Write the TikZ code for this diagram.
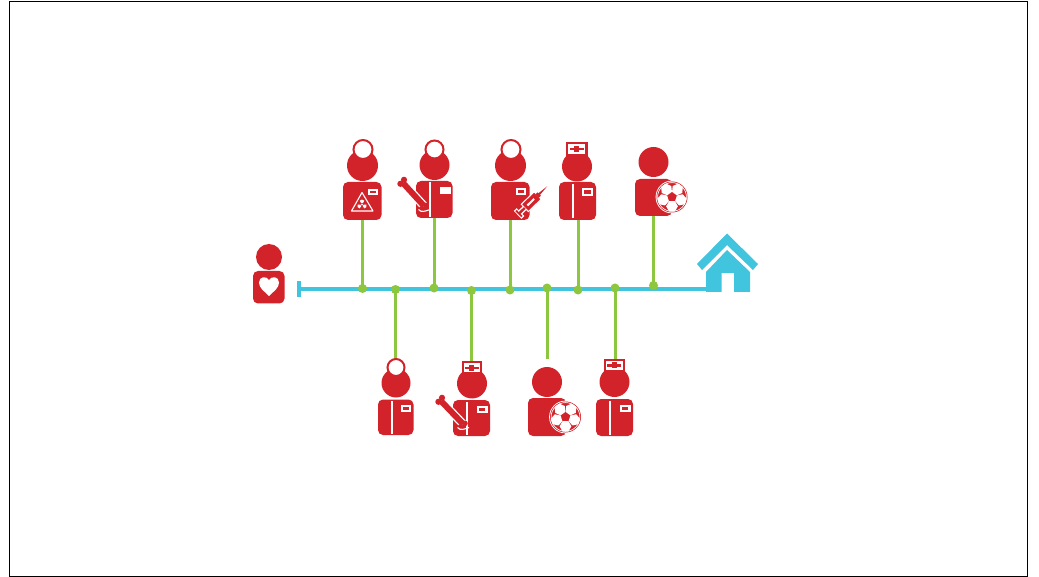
\documentclass[tikz,border=0pt]{standalone}
\definecolor{rd}{HTML}{D2232A}
\definecolor{bl}{HTML}{41C4DD}
\definecolor{gn}{HTML}{8DC63F}
\tikzset{
 x=1pt,y=-1pt,
 frame/.style={draw=black,line width=0.7pt,fill=white},
 rfill/.style={fill=rd,draw=none},
 wfill/.style={fill=white,draw=none},
 dotn/.style={circle,fill=gn,draw=none,inner sep=0pt,minimum size=#1},
 dotn/.default=9pt,
 conn/.style={draw=gn,line width=3pt},
 axis/.style={draw=bl,line width=4pt},
}
\newcommand{\Head}[3]{\fill[rfill] (#1,#2) circle (#3);}
\newcommand{\Body}[4]{\fill[rfill,rounded corners=5pt] (#1,#2) rectangle (#3,#4);}
\newcommand{\RCap}[3]{\draw[rd,fill=white,line width=2pt] (#1,#2) circle (#3);}
\newcommand{\NCap}[4]{\fill[rfill] (#1,#2) rectangle (#3,#4);
 \fill[wfill] (#1+2.2,#2+2.2) rectangle (#3-2.2,#4-2.6);
 \fill[rfill] ({(#1+#3)/2-7},{(#2+#4)/2-1.5}) rectangle ({(#1+#3)/2+7},{(#2+#4)/2+1});
 \fill[rfill] ({(#1+#3)/2-2.6},{(#2+#4)/2-3.2}) rectangle ({(#1+#3)/2+2.6},{(#2+#4)/2+2.7});}
\newcommand{\Tag}[4]{\fill[wfill] (#1,#2) rectangle (#3,#4);
 \fill[rfill] (#1+2.2,#2+2.2) rectangle (#3-2.2,#4-2.2);}
\newcommand{\Strip}[3]{\fill[wfill] (#1-1.1,#2) rectangle (#1+1.1,#3);}
\newcommand{\Bone}[4]{%
 \draw[white,line width=8.6pt] (#1,#2) -- (#3,#4);
 \draw[rd,line width=6pt] (#1,#2) -- (#3,#4);
 \fill[rfill] (#1-2.6,#2+0.8) circle (3.1);
 \fill[rfill] (#1+1,#2-3.2) circle (3.1);
 \fill[rfill] (#3-2.4,#4+2.8) circle (2.8);
 \fill[rfill] (#3+2,#4-0.6) circle (2.8);
 \draw[white,line width=1.1pt] (#3-5.5,#4+3.5) .. controls (#3-3,#4+7) and (#3+2,#4+5) .. (#3+6,#4+3.5);
}
\newcommand{\Ball}[3]{%
 \begin{scope}[shift={(#1,#2)}]
 \fill[wfill] (0,0) circle (#3+0.9);
 \fill[rfill] (0,0) circle (#3);
 \draw[white,line width=0.7pt] (0,0) circle (#3-1.1);
 \foreach \a in {-54,-126,-198,-270,-342}{
  \fill[white,shift={(\a:{#3*.6})}] (\a+30:{#3*.38}) -- (\a+90:{#3*.38}) -- (\a+150:{#3*.38}) -- (\a+210:{#3*.38}) -- (\a+270:{#3*.38}) -- (\a+330:{#3*.38}) -- cycle;
 }
 \end{scope}}
\begin{document}
\begin{tikzpicture}
\useasboundingbox (0,0) rectangle (1039,577);
\draw[frame] (9.5,1) rectangle (1027.5,576);

\coordinate (start) at (298.5,289);
\coordinate (axisend) at (708,289);
\draw[axis] (start) -- (axisend);
\fill[bl] (297,281) rectangle (301,297);

\node[dotn] (d1) at (362.5,288.5) {};
\node[dotn] (d2) at (395.5,289.5) {};
\node[dotn] (d3) at (434,288) {};
\node[dotn] (d4) at (471.5,290.5) {};
\node[dotn] (d5) at (510,290) {};
\node[dotn] (d6) at (547,288) {};
\node[dotn] (d7) at (578,290) {};
\node[dotn] (d8) at (615,288) {};
\node[dotn] (d9) at (653.5,285.5) {};

\coordinate (t1) at (362.5,219);
\coordinate (b2) at (395.5,362);
\coordinate (t3) at (434,217);
\coordinate (b4) at (471.5,364);
\coordinate (t5) at (510,219);
\coordinate (b6) at (547,358.5);
\coordinate (t7) at (578,219);
\coordinate (b8) at (615,362);
\coordinate (t9) at (653.5,215);
\draw[conn] (d1.center) -- (t1);
\draw[conn] (d2.center) -- (b2);
\draw[conn] (d3.center) -- (t3);
\draw[conn] (d4.center) -- (b4);
\draw[conn] (d5.center) -- (t5);
\draw[conn] (d6.center) -- (b6);
\draw[conn] (d7.center) -- (t7);
\draw[conn] (d8.center) -- (b8);
\draw[conn] (d9.center) -- (t9);

% start person
\Head{269}{257}{13}
\Body{253}{271}{284.5}{303.5}
\fill[wfill] (269,296) .. controls (264,291) and (259,288) .. (259,282.5)
 .. controls (259,276.5) and (266.5,275.5) .. (269,280)
 .. controls (271.5,275.5) and (279,276.5) .. (279,282.5)
 .. controls (279,288) and (274,291) .. (269,296) -- cycle;

% person 1
\Head{362.5}{165.5}{15.5}
\RCap{363}{149.5}{9.5}
\Body{343}{182}{381.5}{220}
\Tag{367.7}{189}{378}{195.5}
\draw[white,line width=1.1pt,line join=round] (362,192.5) -- (351.5,211) -- (373,211) -- cycle;
\begin{scope}[shift={(362,204.6)}]
 \fill[wfill] (0,0) circle (1);
 \foreach \a in {-90,30,150}{
  \fill[wfill] (\a-30:1.7) -- (\a-30:4.5) -- (\a:5) -- (\a+30:4.5) -- (\a+30:1.7) -- cycle;
 }
\end{scope}

% person 2
\Head{434.5}{165}{15}
\RCap{434.5}{149.5}{9}
\Body{416}{181}{452.5}{218}
\Strip{430.2}{182}{217}
\fill[wfill] (440,187) rectangle (450.5,194.5);
\Bone{403}{183}{424}{206}

% person 3
\Head{510.5}{165.5}{15.5}
\RCap{511}{149.5}{9.5}
\Body{491}{182}{529.5}{220}
\Tag{516}{188}{526}{195}
\begin{scope}[shift={(532,201)},rotate=44]
 \fill[wfill] (-20,-5.5) rectangle (-16,5.5);
 \fill[wfill] (-17,-2.6) rectangle (-9,2.6);
 \fill[wfill] (-10.5,-5.6) rectangle (8.5,5.6);
 \fill[rfill] (-19,-4.2) rectangle (-17.2,4.2);
 \fill[rfill] (-17.5,-1.2) rectangle (-10,1.2);
 \fill[rfill] (-9.3,-4.4) rectangle (7.2,4.4);
 \fill[wfill] (-6.5,-1) rectangle (3,1);
 \fill[rd] (7,-2.4) rectangle (10,2.4);
 \fill[rd] (9.5,-1.2) -- (21,0) -- (9.5,1.2) -- cycle;
\end{scope}

% person 4
\Head{577}{166.5}{15}
\NCap{566}{142}{587.5}{157}
\Body{559}{182}{596}{220}
\Strip{572.7}{184}{218.5}
\Tag{582}{188}{593}{196}

% person 5
\Head{653.5}{162}{15}
\Body{635}{179}{672}{216}
\Ball{672}{197}{15.5}

% house
\fill[bl] (727,233.5) -- (758,264) -- (753,270) -- (727,245) -- (702,270) -- (697,264) -- cycle;
\fill[bl] (727,250) -- (750,272) -- (750,292) -- (734,292) -- (734,273) -- (721.5,273) -- (721.5,292) -- (706,292) -- (706,272) -- cycle;

% person 6
\Head{396}{383}{14.5}
\RCap{396}{367.5}{8.5}
\Body{378}{399.5}{413.5}{435}
\Strip{392}{401}{434}
\Tag{401}{405}{411}{412}

% person 7
\Head{472}{383.5}{15}
\NCap{461.5}{361}{482}{375}
\Body{453}{400}{490}{436}
\Strip{467.2}{402}{435}
\Tag{477}{405.5}{487.5}{413}
\Bone{441}{401}{463}{424}

% person 8
\Head{547}{382}{15}
\Body{528}{398}{566}{436}
\Ball{565.5}{417}{15.5}

% person 9
\Head{614.5}{382}{15}
\NCap{603.5}{358.5}{625}{372.5}
\Body{596}{399}{633}{436}
\Strip{610.3}{401}{435}
\Tag{620}{405}{630.5}{412}
\end{tikzpicture}
\end{document}
